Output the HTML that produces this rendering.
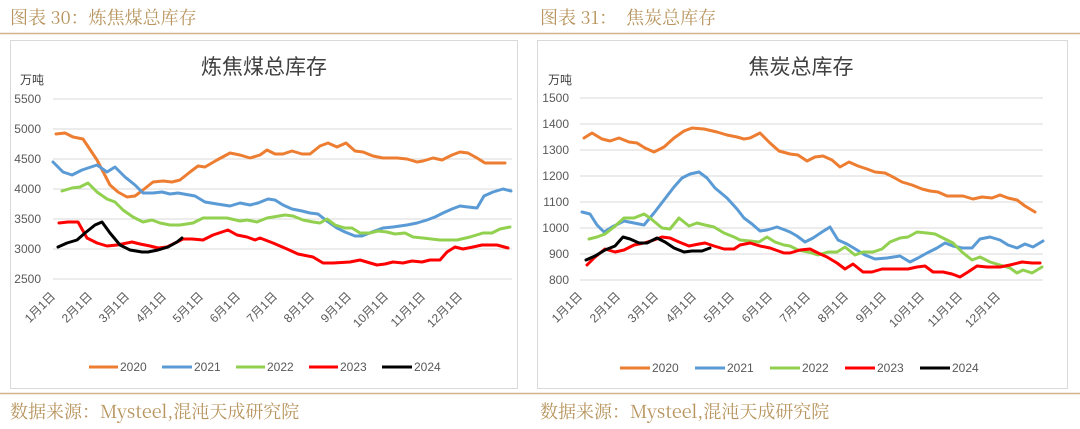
<!DOCTYPE html>
<html><head><meta charset="utf-8"><style>
body{margin:0;background:#fff;width:1080px;height:424px;overflow:hidden}
svg text{font-family:"Liberation Sans","Noto Sans CJK SC",sans-serif}
</style></head><body>
<svg width="1080" height="424" viewBox="0 0 1080 424" xmlns="http://www.w3.org/2000/svg">
<g font-family="'Noto Serif CJK SC','Liberation Serif',serif" fill="#b8955e" font-size="18">
<text x="10" y="24" style="font-family:'Noto Serif CJK SC',serif">图表 30：炼焦煤总库存</text>
<text x="540" y="24" style="font-family:'Noto Serif CJK SC',serif">图表 31：　焦炭总库存</text>
<text x="10" y="418" style="font-family:'Noto Serif CJK SC',serif">数据来源：Mysteel,混沌天成研究院</text>
<text x="540" y="418" style="font-family:'Noto Serif CJK SC',serif">数据来源：Mysteel,混沌天成研究院</text>
</g>
<line x1="0" y1="33.5" x2="1080" y2="33.5" stroke="#d2b48a" stroke-width="1.5"/>
<line x1="0" y1="393.5" x2="1080" y2="393.5" stroke="#d2b48a" stroke-width="1.5"/>
<rect x="10.5" y="40.5" width="507" height="348" fill="#fff" stroke="#d9d9d9"/>
<rect x="537.5" y="40.5" width="530" height="348" fill="#fff" stroke="#d9d9d9"/>

<!-- LEFT -->
<text x="264" y="74" font-size="21" fill="#404040" text-anchor="middle">炼焦煤总库存</text>
<text x="20" y="84" font-size="12" fill="#404040">万吨</text>
<g stroke="#d9d9d9" stroke-width="1">
<line x1="53" y1="99" x2="512" y2="99"/><line x1="53" y1="129" x2="512" y2="129"/><line x1="53" y1="159" x2="512" y2="159"/><line x1="53" y1="189" x2="512" y2="189"/><line x1="53" y1="219" x2="512" y2="219"/><line x1="53" y1="249" x2="512" y2="249"/><line x1="53" y1="279" x2="512" y2="279"/>
</g>
<g font-size="12" fill="#595959" text-anchor="end">
<text x="41" y="103">5500</text><text x="41" y="133">5000</text><text x="41" y="163">4500</text><text x="41" y="193">4000</text><text x="41" y="223">3500</text><text x="41" y="253">3000</text><text x="41" y="283">2500</text>
</g>
<g font-size="12" fill="#595959" text-anchor="end">
<text transform="translate(56,297) rotate(-45)">1月1日</text>
<text transform="translate(93,297) rotate(-45)">2月1日</text>
<text transform="translate(130,297) rotate(-45)">3月1日</text>
<text transform="translate(167,297) rotate(-45)">4月1日</text>
<text transform="translate(204,297) rotate(-45)">5月1日</text>
<text transform="translate(241,297) rotate(-45)">6月1日</text>
<text transform="translate(278,297) rotate(-45)">7月1日</text>
<text transform="translate(315,297) rotate(-45)">8月1日</text>
<text transform="translate(352,297) rotate(-45)">9月1日</text>
<text transform="translate(389,297) rotate(-45)">10月1日</text>
<text transform="translate(426,297) rotate(-45)">11月1日</text>
<text transform="translate(463,297) rotate(-45)">12月1日</text>
</g>
<g fill="none" stroke-width="3" stroke-linejoin="round" stroke-linecap="round">
<polyline stroke="#ed7d31" points="56,134 65,133 73,137 83,139 97,160 110,185 118,192 127,197 135,196 143,190 153,182 163,181 172,182 180,180 190,172 198,166 205,167 217,160 230,153 240,155 250,158 260,155 267,150 275,154 283,154 292,151 302,154 310,154 320,146 328,143 337,147 346,143 355,151 363,152 373,156 383,158 397,158 407,159 417,162 423,161 433,158 442,160 452,155 460,152 468,153 477,158 485,163 505,163"/>
<polyline stroke="#5b9bd5" points="53,162 63,172 72,175 82,170 97,165 107,172 115,167 125,177 135,185 143,193 153,193 162,192 170,194 178,193 195,196 205,202 217,204 230,206 240,203 250,205 258,203 268,199 275,200 283,205 292,209 302,211 310,213 318,214 327,221 337,228 345,232 355,236 362,236 372,232 383,228 393,227 407,225 417,223 427,220 435,217 443,213 452,209 460,206 468,207 477,208 484,196 493,192 503,189 511,191"/>
<polyline stroke="#92d050" points="62,191 72,188 80,187 88,183 97,192 107,199 115,202 123,210 133,217 143,222 152,220 160,223 170,225 180,225 193,223 203,218 213,218 227,218 240,221 247,220 257,222 267,218 273,217 285,215 293,216 303,220 313,222 320,223 327,219 335,225 345,228 352,228 360,233 370,233 378,231 387,232 395,234 405,233 413,237 423,238 440,240 457,240 470,237 483,233 492,233 500,229 510,227"/>
<polyline stroke="#ff0000" points="59,223 68,222 78,222 87,238 97,243 107,246 117,245 127,243 132,242 140,244 150,246 158,248 167,247 177,242 183,239 192,239 203,240 213,235 228,230 237,235 247,237 255,240 260,238 273,243 287,249 298,254 313,257 323,263 333,263 350,262 360,260 377,265 385,264 393,262 403,263 412,261 422,262 430,260 440,260 447,252 455,247 463,249 473,247 482,245 497,245 508,248"/>
<polyline stroke="#000000" points="58,247 67,243 77,240 85,233 95,225 102,222 110,233 120,245 130,250 142,252 148,252 158,250 168,247 177,242 182,238"/>
</g>
<g font-size="12" fill="#595959">
<line x1="89" y1="367" x2="118" y2="367" stroke="#ed7d31" stroke-width="3"/><text x="120" y="371">2020</text>
<line x1="162" y1="367" x2="192" y2="367" stroke="#5b9bd5" stroke-width="3"/><text x="194" y="371">2021</text>
<line x1="236" y1="367" x2="265" y2="367" stroke="#92d050" stroke-width="3"/><text x="267" y="371">2022</text>
<line x1="309" y1="367" x2="338" y2="367" stroke="#ff0000" stroke-width="3"/><text x="340" y="371">2023</text>
<line x1="382" y1="367" x2="412" y2="367" stroke="#000" stroke-width="3"/><text x="414" y="371">2024</text>
</g>

<!-- RIGHT -->
<text x="801" y="74" font-size="21" fill="#404040" text-anchor="middle">焦炭总库存</text>
<text x="548" y="84" font-size="12" fill="#404040">万吨</text>
<g stroke="#d9d9d9" stroke-width="1">
<line x1="580" y1="98" x2="1043" y2="98"/><line x1="580" y1="124" x2="1043" y2="124"/><line x1="580" y1="150" x2="1043" y2="150"/><line x1="580" y1="176" x2="1043" y2="176"/><line x1="580" y1="202" x2="1043" y2="202"/><line x1="580" y1="228" x2="1043" y2="228"/><line x1="580" y1="254" x2="1043" y2="254"/><line x1="580" y1="280" x2="1043" y2="280"/>
</g>
<g font-size="12" fill="#595959" text-anchor="end">
<text x="569" y="102">1500</text><text x="569" y="128">1400</text><text x="569" y="154">1300</text><text x="569" y="180">1200</text><text x="569" y="206">1100</text><text x="569" y="232">1000</text><text x="569" y="258">900</text><text x="569" y="284">800</text>
</g>
<g font-size="12" fill="#595959" text-anchor="end">
<text transform="translate(583,297) rotate(-45)">1月1日</text>
<text transform="translate(621,297) rotate(-45)">2月1日</text>
<text transform="translate(659,297) rotate(-45)">3月1日</text>
<text transform="translate(697,297) rotate(-45)">4月1日</text>
<text transform="translate(735,297) rotate(-45)">5月1日</text>
<text transform="translate(773,297) rotate(-45)">6月1日</text>
<text transform="translate(811,297) rotate(-45)">7月1日</text>
<text transform="translate(849,297) rotate(-45)">8月1日</text>
<text transform="translate(887,297) rotate(-45)">9月1日</text>
<text transform="translate(925,297) rotate(-45)">10月1日</text>
<text transform="translate(963,297) rotate(-45)">11月1日</text>
<text transform="translate(1001,297) rotate(-45)">12月1日</text>
</g>
<g fill="none" stroke-width="3" stroke-linejoin="round" stroke-linecap="round">
<polyline stroke="#ed7d31" points="584,138 592,133 602,139 610,141 619,138 629,142 637,143 645,148 654,152 664,147 674,138 684,131 692,128 704,129 717,132 727,135 737,137 744,139 750,138 760,133 770,143 779,151 790,154 798,155 807,161 815,157 823,156 832,160 840,167 849,162 858,166 867,169 875,172 885,173 893,177 902,182 912,185 922,189 930,191 938,192 947,196 963,196 973,199 982,197 992,198 1000,195 1008,198 1017,200 1025,206 1035,212"/>
<polyline stroke="#5b9bd5" points="582,212 590,214 597,225 604,232 612,227 624,221 634,223 644,225 654,213 664,200 674,187 682,178 690,174 699,172 707,178 715,188 727,198 737,209 744,218 752,224 760,231 767,230 777,227 785,230 790,232 797,236 805,242 813,238 822,232 830,227 838,240 847,244 857,250 865,255 875,259 887,258 900,256 910,262 918,258 927,253 937,248 945,243 953,246 962,248 972,248 980,239 990,237 1000,240 1008,245 1017,248 1025,244 1033,247 1043,241"/>
<polyline stroke="#92d050" points="589,239 597,237 605,234 614,227 624,218 634,218 644,214 650,218 662,228 670,229 679,218 689,226 697,223 705,225 714,227 724,233 734,237 740,240 750,241 759,242 767,237 775,242 784,245 790,246 798,250 808,252 818,255 828,252 837,252 845,247 855,255 863,252 873,252 882,249 890,242 900,238 908,237 917,232 927,233 935,234 943,238 953,243 962,252 972,260 980,257 990,262 1000,265 1010,268 1017,273 1023,270 1032,273 1042,267"/>
<polyline stroke="#ff0000" points="587,265 594,258 605,249 615,252 624,250 634,245 644,243 654,240 662,237 670,238 679,242 689,246 699,244 705,243 714,246 724,249 734,249 740,245 750,243 760,246 770,248 784,253 790,253 800,250 810,249 818,253 827,257 837,263 845,269 853,264 863,272 872,272 882,269 897,269 908,269 917,267 925,266 933,272 943,272 952,274 960,277 968,272 977,266 987,267 1000,267 1010,265 1022,262 1032,263 1040,263"/>
<polyline stroke="#000000" points="586,260 595,256 605,250 615,246 623,237 630,239 639,243 647,243 657,238 665,242 674,248 684,252 692,251 702,251 710,248"/>
</g>
<g font-size="12" fill="#595959">
<line x1="620" y1="368" x2="650" y2="368" stroke="#ed7d31" stroke-width="3"/><text x="652" y="372">2020</text>
<line x1="695" y1="368" x2="725" y2="368" stroke="#5b9bd5" stroke-width="3"/><text x="727" y="372">2021</text>
<line x1="770" y1="368" x2="800" y2="368" stroke="#92d050" stroke-width="3"/><text x="802" y="372">2022</text>
<line x1="845" y1="368" x2="875" y2="368" stroke="#ff0000" stroke-width="3"/><text x="877" y="372">2023</text>
<line x1="920" y1="368" x2="950" y2="368" stroke="#000" stroke-width="3"/><text x="952" y="372">2024</text>
</g>
</svg>
</body></html>
